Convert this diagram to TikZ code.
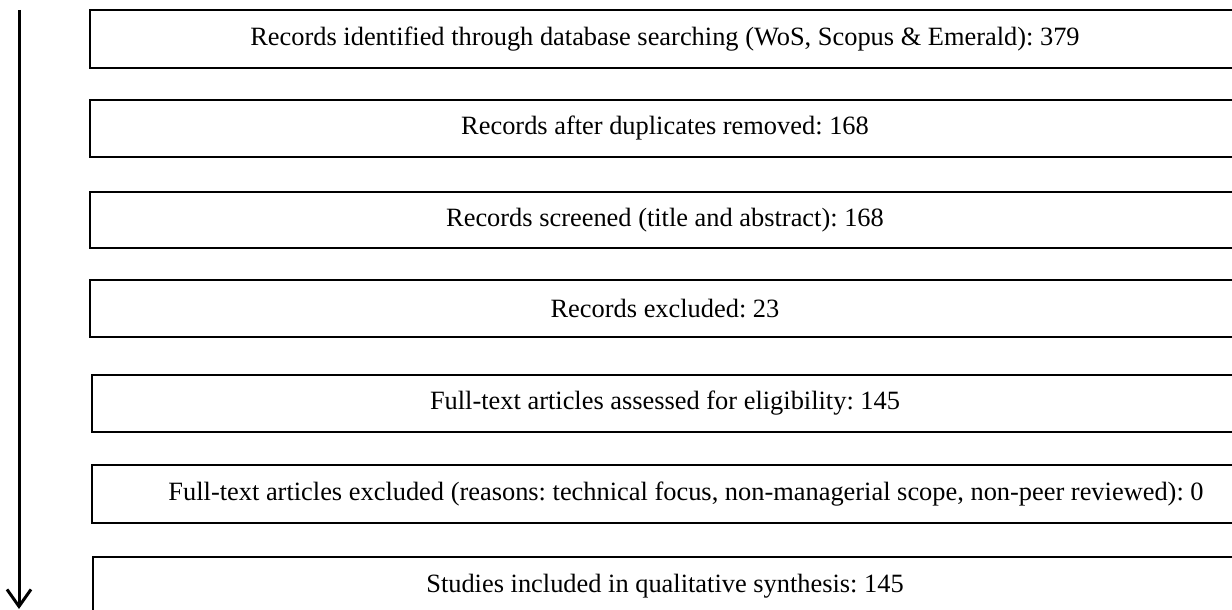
\documentclass[tikz,border=0pt]{standalone}
\usepackage{fontspec}
\setmainfont{Liberation Serif}
\usetikzlibrary{arrows.meta}
\tikzset{
  stagebox/.style={draw=black, line width=2.5pt, fill=none},
  stagetext/.style={inner sep=0pt, font=\fontsize{26.4}{30}\selectfont},
  flowarrow/.style={line width=3pt, -{Straight Barb[length=17pt,width=24pt]}}
}
\begin{document}
\frenchspacing
\begin{tikzpicture}[x=1pt,y=-1pt]
  \useasboundingbox (0,0) rectangle (1232,610);
  \clip (0,0) rectangle (1232,610);
  % stage boxes (left edge, top, bottom); they run past the right margin
  \draw[stagebox] (90,10) rectangle (1242,68);
  \draw[stagebox] (90,100) rectangle (1242,157);
  \draw[stagebox] (90,192) rectangle (1242,248);
  \draw[stagebox] (90,280) rectangle (1242,337);
  \draw[stagebox] (92,375) rectangle (1242,432);
  \draw[stagebox] (92,465) rectangle (1242,523);
  \draw[stagebox] (93,557) rectangle (1242,616);
  % stage texts
  \node[stagetext] (s1) at (665,39) {Records identified through database searching (WoS, Scopus \& Emerald): 379};
  \node[stagetext] (s2) at (665,128.5) {Records after duplicates removed: 168};
  \node[stagetext] (s3) at (665,220) {Records screened (title and abstract): 168};
  \node[stagetext] (s4) at (665,308.5) {Records excluded: 23};
  \node[stagetext] (s5) at (665,403.5) {Full-text articles assessed for eligibility: 145};
  \node[stagetext] (s6) at (686,494) {Full-text articles excluded (reasons: technical focus, non-managerial scope, non-peer reviewed): 0};
  \node[stagetext] (s7) at (665,586) {Studies included in qualitative synthesis: 145};
  % process direction arrow
  \coordinate (top) at (19,10);
  \coordinate (bottom) at (19,609);
  \draw[flowarrow] (top) -- (bottom);
\end{tikzpicture}
\end{document}
